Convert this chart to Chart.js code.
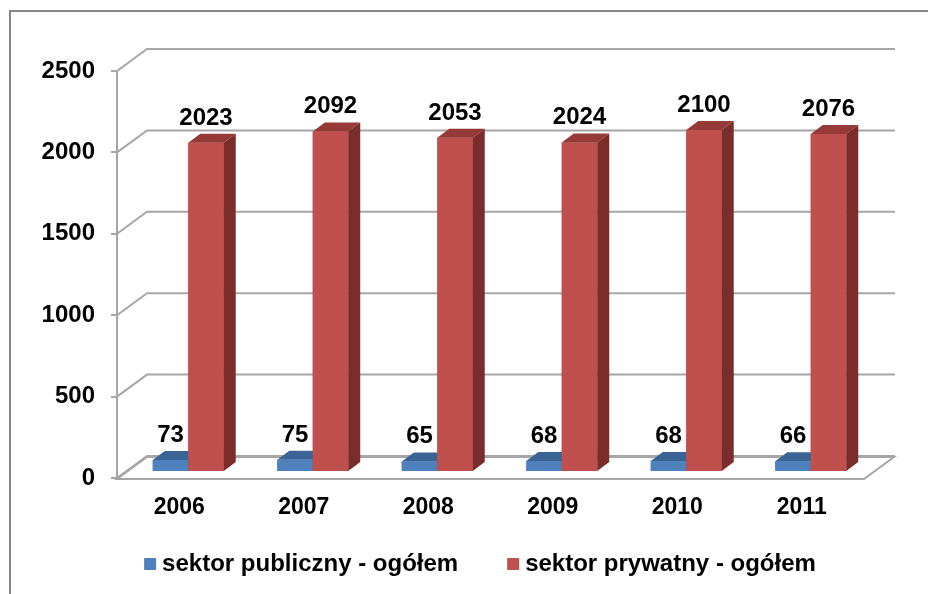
<!DOCTYPE html>
<html><head><meta charset="utf-8">
<script src="https://cdn.jsdelivr.net/npm/chart.js@4.4.1/dist/chart.umd.min.js"></script>
<style>html,body{margin:0;padding:0;background:#fff;overflow:hidden}#wrap{width:928px;height:594px;position:relative}</style>
</head><body><div id="wrap"><canvas id="c" width="928" height="594"></canvas></div>
<script>
// ---- data ----
const categories = ['2006','2007','2008','2009','2010','2011'];
const publicValues = [73,75,65,68,68,66];
const privateValues = [2023,2092,2053,2024,2100,2076];
const seriesNames = ['sektor publiczny - ogółem','sektor prywatny - ogółem'];
const yTickValues = [0,500,1000,1500,2000,2500];

// ---- styling ----
const FONT = '"Liberation Sans", Arial, sans-serif';
const GRID = '#A6A6A6';
const WALL = {dx:30, dy:-22};
const BAR_OFF = {dx:9, dy:-6};
const BAR_DEPTH = {dx:12, dy:-9};
const faceColors = [
  {front:'#4F81BD', top:'#3B6496', side:'#2E4D74'},
  {front:'#C0504D', top:'#963A37', side:'#7A2D2B'}
];

const threeD = {
  id:'threeD',
  beforeDraw(chart){
    const ctx = chart.ctx;
    ctx.save();
    ctx.strokeStyle = '#878787'; ctx.lineWidth = 2;
    ctx.strokeRect(10, 11, 2000, 2000);
    ctx.restore();
  },
  beforeDatasetsDraw(chart){
    const {ctx, chartArea:a, scales:{y}} = chart;
    ctx.save();
    ctx.strokeStyle = GRID; ctx.lineWidth = 2;
    const y0 = y.getPixelForValue(0) + 1;
    ctx.beginPath();
    ctx.moveTo(a.left, y0); ctx.lineTo(a.right, y0);
    ctx.lineTo(a.right + WALL.dx, y0 + WALL.dy);
    ctx.lineTo(a.left + WALL.dx, y0 + WALL.dy);
    ctx.closePath();
    ctx.fillStyle = '#fff'; ctx.fill(); ctx.stroke();
    y.ticks.forEach(t => {
      const py = y.getPixelForValue(t.value);
      ctx.beginPath();
      ctx.moveTo(a.left, py);
      ctx.lineTo(a.left + WALL.dx, py + WALL.dy);
      ctx.lineTo(a.right + WALL.dx + 1, py + WALL.dy);
      ctx.stroke();
    });
    ctx.restore();
    ctx.save();
    ctx.translate(BAR_OFF.dx, BAR_OFF.dy);
  },
  afterDatasetsDraw(chart){
    const ctx = chart.ctx;
    const metas = chart.data.datasets.map((d,i)=>chart.getDatasetMeta(i));
    const n = chart.data.labels.length;
    for (let j = 0; j < n; j++) {
      metas.forEach((meta, di) => {
        const bar = meta.data[j];
        const c = faceColors[di];
        const p = bar.getProps(['x','y','base','width'], true);
        const L = p.x - p.width/2, R = p.x + p.width/2;
        const T = Math.min(p.y, p.base), B = Math.max(p.y, p.base);
        bar.draw(ctx);
        ctx.fillStyle = c.top;
        ctx.beginPath();
        ctx.moveTo(L, T); ctx.lineTo(R, T);
        ctx.lineTo(R + BAR_DEPTH.dx, T + BAR_DEPTH.dy);
        ctx.lineTo(L + BAR_DEPTH.dx, T + BAR_DEPTH.dy);
        ctx.closePath(); ctx.fill();
        ctx.fillStyle = c.side;
        ctx.beginPath();
        ctx.moveTo(R, T); ctx.lineTo(R + BAR_DEPTH.dx, T + BAR_DEPTH.dy);
        ctx.lineTo(R + BAR_DEPTH.dx, B + BAR_DEPTH.dy); ctx.lineTo(R, B);
        ctx.closePath(); ctx.fill();
      });
    }
    // value labels
    ctx.fillStyle = '#000';
    ctx.font = 'bold 24px ' + FONT;
    ctx.textAlign = 'center'; ctx.textBaseline = 'alphabetic';
    metas.forEach((meta, di) => {
      meta.data.forEach((bar, j) => {
        const p = bar.getProps(['x','y','base'], true);
        ctx.fillText(String(chart.data.datasets[di].data[j]), p.x, Math.min(p.y, p.base) - 18);
      });
    });
    ctx.restore();
  },
  afterDraw(chart){
    const ctx = chart.ctx;
    ctx.save();
    ctx.font = 'bold 24px ' + FONT;
    ctx.textBaseline = 'middle'; ctx.textAlign = 'left';
    const box = 12, gap = 6, itemGap = 49, cy = 564;
    const items = chart.data.datasets.map(d => ({label:d.label, color:d.backgroundColor, w: box + gap + ctx.measureText(d.label).width}));
    const total = items.reduce((s,it)=>s+it.w,0) + itemGap*(items.length-1);
    let x = 480 - total/2;
    items.forEach(it => {
      ctx.fillStyle = it.color;
      ctx.fillRect(x, cy - box/2, box, box);
      ctx.fillStyle = '#000';
      ctx.fillText(it.label, x + box + gap, cy);
      x += it.w + itemGap;
    });
    ctx.restore();
  }
};

new Chart(document.getElementById('c'), {
  type:'bar',
  data:{
    labels: categories,
    datasets:[
      {label: seriesNames[0], data: publicValues, backgroundColor: faceColors[0].front, borderWidth:0, clip:false},
      {label: seriesNames[1], data: privateValues, backgroundColor: faceColors[1].front, borderWidth:0, clip:false}
    ]
  },
  options:{
    responsive:false, animation:false,
    categoryPercentage:0.57, barPercentage:1,
    layout:{padding:{left:0, top:71, right:64, bottom:56}},
    plugins:{legend:{display:false}, tooltip:{enabled:false}},
    scales:{
      x:{
        grid:{display:false, drawTicks:false}, border:{display:false},
        ticks:{font:{family:FONT, size:23, weight:'bold'}, color:'#000', padding:16},
        afterFit(s){ s.height = 60; }
      },
      y:{
        min:0, max:2500,
        afterBuildTicks(s){ s.ticks = yTickValues.map(v => ({value:v})); },
        ticks:{font:{family:FONT, size:24, weight:'bold'}, color:'#000', padding:16, callback:(v)=>String(v)},
        grid:{drawOnChartArea:false, drawTicks:true, tickLength:6, color:GRID, lineWidth:2},
        border:{display:true, color:GRID, width:2},
        afterFit(s){ s.width = 117; }
      }
    }
  },
  plugins:[threeD]
});
</script></body></html>
